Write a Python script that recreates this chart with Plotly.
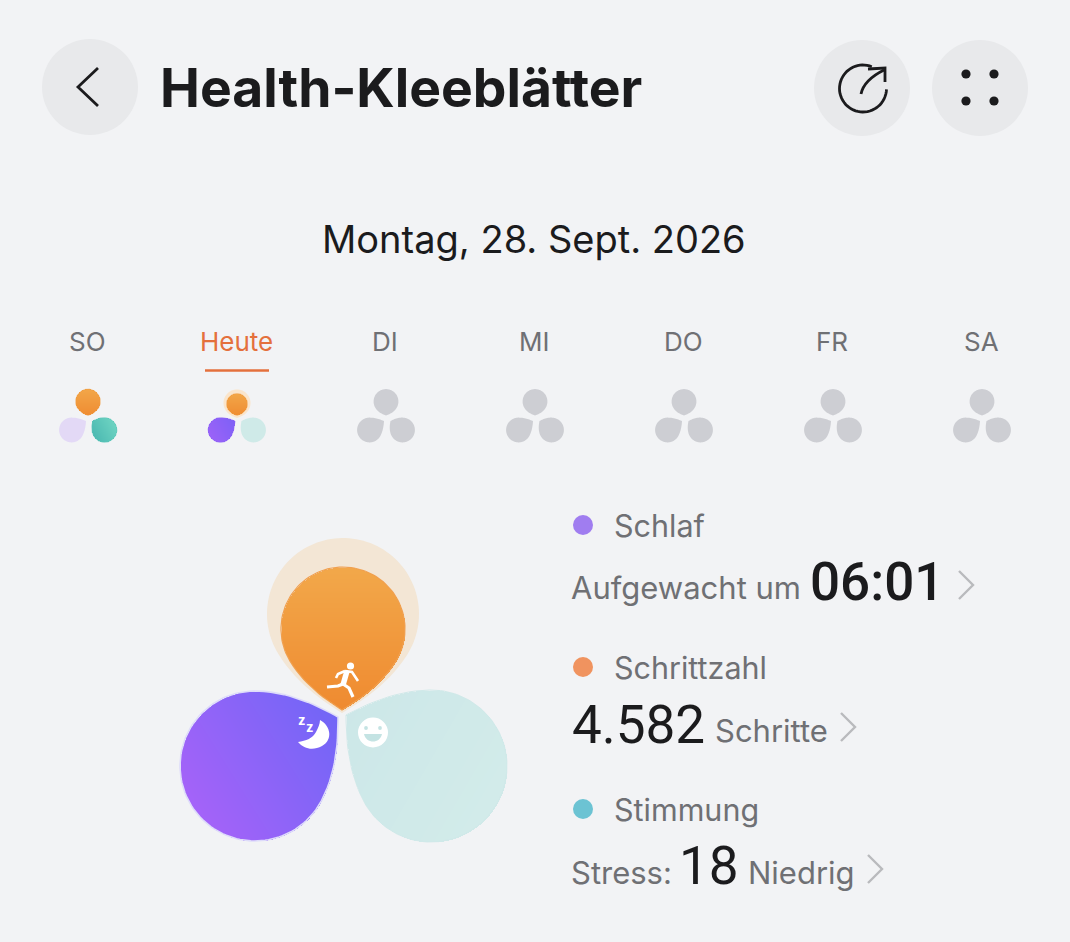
"""
Health clover screen, drawn on pixel axes
"""

import numpy as np
import plotly.graph_objects as go

# Texts and values
TITLE = "Health-Kleeblätter"
DATE_TEXT = "Montag, 28. Sept. 2026"
DAY_LABELS = ["SO", "Heute", "DI", "MI", "DO", "FR", "SA"]
METRIC_NAMES = ["Schlaf", "Schrittzahl", "Stimmung"]
WAKE_PREFIX = "Aufgewacht um"
WAKE_VALUE = "06:01"
STEPS_VALUE = "4.582"
STEPS_UNIT = "Schritte"
STRESS_PREFIX = "Stress:"
STRESS_VALUE = "18"
STRESS_UNIT = "Niedrig"

# Colour state per day for each petal: 0 = empty, 1 = pale, 2 = full
DAY_STEPS = [2, 2, 0, 0, 0, 0, 0]
DAY_SLEEP = [1, 2, 0, 0, 0, 0, 0]
DAY_MOOD = [2, 1, 0, 0, 0, 0, 0]

W, H = 1070, 942
BG = "#f2f3f5"
BTN = "#e8e9eb"
DARK = "#1b1b1d"
GREY = "#6f7074"
ACCENT = "#e4703c"
EMPTY = "#cdced3"
FONT = "Inter"
NUM_FONT = "Roboto"

ORANGE = ("#f2a84a", "#ef8a30")
PURPLE = ("#ad62f9", "#6d66f6")
TEAL = ("#cce7e8", "#d3ecea")
TEAL_FULL = ("#43b2ad", "#76dac6")

shapes = []
annotations = []
fig = go.Figure()


def petal_outline(cx, cy, tx, ty, r, n=90):
    """Teardrop: circle arc round (cx, cy), then two soft sides to the tip"""
    tip = np.array([tx, ty], float)
    base = np.arctan2(ty - cy, tx - cx)
    open_a = np.radians(58)
    ang = np.linspace(base + open_a, base + 2 * np.pi - open_a, n)
    arc = np.c_[cx + r * np.cos(ang), cy + r * np.sin(ang)]

    def side(p0, tangent):
        length = np.linalg.norm(tip - p0)
        p1 = p0 + tangent * length * 0.42
        p2 = tip + (p1 - tip) * 0.35
        t = np.linspace(0, 1, 16)[:, None]
        return (1 - t) ** 3 * p0 + 3 * (1 - t) ** 2 * t * p1 + 3 * (1 - t) * t ** 2 * p2 + t ** 3 * tip

    a0, a1 = ang[0], ang[-1]
    into_tip = side(arc[-1], np.array([-np.sin(a1), np.cos(a1)]))
    from_tip = side(arc[0], np.array([np.sin(a0), -np.cos(a0)]))[::-1]
    return np.vstack([arc, into_tip[1:], from_tip[1:]])


def inside(px, py, poly):
    """Even-odd test of a grid of points against a polygon"""
    res = np.zeros(px.shape, bool)
    x0, y0 = poly[:, 0], poly[:, 1]
    x1, y1 = np.roll(x0, 1), np.roll(y0, 1)
    for a, b, c, d in zip(x0, y0, x1, y1):
        if b == d:
            continue
        hit = ((b > py) != (d > py)) & (px < (c - a) * (py - b) / (d - b) + a)
        res ^= hit
    return res


def flat_petal(geom, color):
    """One colour petal as a shape under all traces"""
    poly = petal_outline(*geom)
    d = "M" + " L".join(f"{x:.2f},{y:.2f}" for x, y in poly) + " Z"
    shapes.append(dict(type="path", path=d, fillcolor=color, line_width=0, layer="below"))


def gradient_petal(geom, colors, angle, edge, edge_w=1.2, step=1.0):
    """Petal with linear gradient: masked heatmap plus a smoothing edge line"""
    poly = petal_outline(*geom)
    xs = np.arange(np.floor(poly[:, 0].min()) - 1, np.ceil(poly[:, 0].max()) + 2, step)
    ys = np.arange(np.floor(poly[:, 1].min()) - 1, np.ceil(poly[:, 1].max()) + 2, step)
    gx, gy = np.meshgrid(xs, ys)
    d = np.cos(np.radians(angle)) * gx + np.sin(np.radians(angle)) * gy
    z = (d - d.min()) / (d.max() - d.min())
    z[~inside(gx, gy, poly)] = np.nan
    fig.add_trace(go.Heatmap(x=xs, y=ys, z=z, zmin=0, zmax=1, showscale=False,
                             colorscale=[[0, colors[0]], [1, colors[1]]],
                             hoverinfo="skip"))
    closed = np.vstack([poly, poly[:1]])
    fig.add_trace(go.Scatter(x=closed[:, 0], y=closed[:, 1], mode="lines",
                             line=dict(color=edge, width=edge_w),
                             hoverinfo="skip", showlegend=False))


def circle(cx, cy, r, color, layer="below"):
    shapes.append(dict(type="circle", x0=cx - r, x1=cx + r, y0=cy - r, y1=cy + r,
                       fillcolor=color, line_width=0, layer=layer))


def path(d, color=None, width=0, fill=None):
    shapes.append(dict(type="path", path=d, layer="above", fillcolor=fill or "rgba(0,0,0,0)",
                       line=dict(color=color or "rgba(0,0,0,0)", width=width)))


def label(x, y, text, size, color=GREY, anchor="left", weight=400, family=FONT):
    annotations.append(dict(x=x, y=y, text=text, showarrow=False, xanchor=anchor, yanchor="middle",
                            font=dict(family=family, size=size, color=color, weight=weight)))


def chevron(x, y, color="#b9babd"):
    path(f"M{x},{y - 14} L{x + 14},{y} L{x},{y + 14}", color=color, width=2.4)


# Header
circle(90, 87, 48, BTN)
circle(862, 88, 48, BTN)
circle(980, 88, 48, BTN)
path("M98,68 L78,87 L98,106", color=DARK, width=2.8)
label(158, 87, TITLE, 53.4, DARK, weight=700)

# share icon, open ring with arrow
ring_a = np.radians(np.linspace(-68, -358, 50))
ring_pts = " L".join(f"{863 + 23.5 * np.cos(a):.1f},{88.5 + 23.5 * np.sin(a):.1f}" for a in ring_a)
path("M" + ring_pts, color=DARK, width=2.8)
path("M861,94 C863,84 872,76 884,70", color=DARK, width=2.8)
path("M868,69 L885,68 L885,82", color=DARK, width=2.8)
for dx, dy in [(966, 74), (994, 74), (966, 101), (994, 101)]:
    circle(dx, dy, 4.6, DARK)

label(534, 239, DATE_TEXT, 38, DARK, anchor="center", weight=400)

# Week strip
DAY_X0, DAY_STEP = 88, 149
for i, day in enumerate(DAY_LABELS):
    cx = DAY_X0 + i * DAY_STEP
    today = day == "Heute"
    label(cx - 1, 341, day, 26, ACCENT if today else GREY, anchor="center")

    top_r, top_cy = (10.5, 404) if today else (12.4, 401.5)
    if today:
        flat_petal((cx, 403, cx, 418, 13.5), "#fae5cc")
    if DAY_STEPS[i] == 2:
        gradient_petal((cx, top_cy, cx, 415.5, top_r), ORANGE, 90, "#f09a3e", 0.6, 0.5)
    else:
        flat_petal((cx, top_cy, cx, 415.5, top_r), EMPTY)

    sleep_geom = (cx - 16.5, 430, cx - 2, 421, 12.4)
    if DAY_SLEEP[i] == 2:
        gradient_petal(sleep_geom, ("#a163f8", "#7a60f6"), -30, "#8d62f7", 0.6, 0.5)
    else:
        flat_petal(sleep_geom, "#e3d9f6" if DAY_SLEEP[i] == 1 else EMPTY)

    mood_geom = (cx + 16.5, 430, cx + 4.5, 421, 12.4)
    if DAY_MOOD[i] == 2:
        gradient_petal(mood_geom, TEAL_FULL, -30, "#5cc6b8", 0.6, 0.5)
    else:
        flat_petal(mood_geom, "#cfeae8" if DAY_MOOD[i] == 1 else EMPTY)

shapes.append(dict(type="line", x0=205, x1=269, y0=370.5, y1=370.5, layer="above",
                   line=dict(color=ACCENT, width=2.4)))

# Big clover
flat_petal((343, 614, 342, 713, 76), "#f3e6d5")
gradient_petal((343, 629, 342, 710, 62), ORANGE, 90, "#f0a050")
gradient_petal((255, 766, 338, 717, 75), PURPLE, -32, "#dedcfa", 1.6)
gradient_petal((431, 766, 346, 715, 76), TEAL, 30, "#d0e9e9", 1)

# Runner
circle(350.5, 666, 3.6, "white", layer="above")
path("M347,671 L343,685", color="white", width=5.5)
path("M345,671 L352,672 L358,681", color="white", width=2.6)
path("M345,671 L338,674 L336,678", color="white", width=2.6)
path("M343,684 L338,686 L327,687", color="white", width=3.2)
path("M343,684 L349,688 L353,697", color="white", width=3.2)

# Moon
path("M320,720 C331,726 333,740 322,746 C313,751 304,749 298,742 "
     "C306,741 313,738 316,732 C318,728 320,724 320,720 Z", fill="white")
label(301, 720, "z", 13, "white", anchor="center", weight=700)
label(309, 727, "z", 13, "white", anchor="center", weight=700)

# Smiley
circle(373, 732.5, 15, "white", layer="above")
circle(366, 728, 1.9, "#c4e3e3", layer="above")
circle(380, 728, 1.9, "#c4e3e3", layer="above")
path("M364,734 C366,744 380,744 382,734 Z", fill="#c4e3e3")

# Metric list
METRIC_COLORS = ["#a07df0", "#f0935f", "#6cc3d3"]
fig.add_trace(go.Scatter(x=[583, 583, 583], y=[525, 667, 809], mode="markers",
                         marker=dict(size=20, color=METRIC_COLORS, line_width=0),
                         hoverinfo="skip", showlegend=False))
for name, y in zip(METRIC_NAMES, [525, 667, 809]):
    label(612, y, name, 30.5)

label(569, 587, WAKE_PREFIX, 31)
label(808, 582, WAKE_VALUE, 53, DARK, weight=500, family=NUM_FONT)
chevron(959, 585)

label(570, 725, STEPS_VALUE, 53, DARK, weight=400, family=NUM_FONT)
label(713, 730, STEPS_UNIT, 31)
chevron(841, 727)

label(569, 872, STRESS_PREFIX, 31)
label(677, 866, STRESS_VALUE, 53, DARK, weight=400, family=NUM_FONT)
label(746, 872, STRESS_UNIT, 31)
chevron(868, 869)

fig.update_layout(
    width=W, height=H, margin=dict(l=0, r=0, t=0, b=0),
    paper_bgcolor=BG, plot_bgcolor=BG, showlegend=False,
    xaxis=dict(range=[0, W], visible=False, fixedrange=True),
    yaxis=dict(range=[H, 0], visible=False, fixedrange=True),
    shapes=shapes, annotations=annotations)

fig.write_html("out.html", config=dict(displayModeBar=False),
               post_script="document.body.style.margin='0';document.body.style.overflow='hidden';")
